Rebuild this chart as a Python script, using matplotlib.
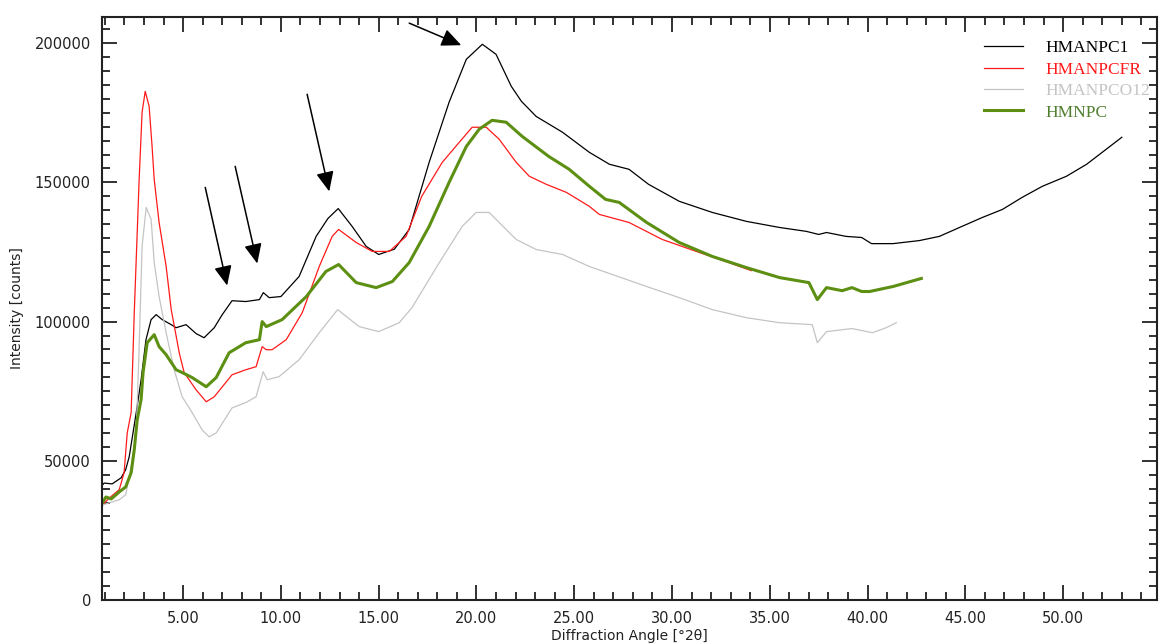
import matplotlib
matplotlib.use('Agg')
import matplotlib.pyplot as plt
from matplotlib.ticker import MultipleLocator, FormatStrFormatter

x_pc1 = [0.9, 0.96, 1.37, 1.83, 2.06, 2.24, 2.6, 2.85, 3.1, 3.36, 3.62, 3.93, 4.39, 4.64, 5.15, 5.66,
         6.07, 6.59, 7.0, 7.5, 8.2, 8.9, 9.1, 9.4, 10.0, 10.93, 11.8, 12.4, 12.93, 13.64, 14.36, 15.0,
         15.8, 16.56, 17.58, 18.6, 19.48, 20.3, 21.0, 21.78, 22.3, 23.05, 24.4, 25.77, 26.8, 27.8,
         28.8, 30.37, 32.06, 33.8, 35.5, 36.87, 37.5, 37.9, 38.9, 39.7, 40.2, 41.3, 42.65, 43.67,
         44.7, 45.87, 46.9, 47.9, 48.94, 50.17, 51.2, 52.0, 53.0]
y_pc1 = [41500, 42000, 41700, 43900, 46800, 51400, 67300, 79100, 93500, 100700, 102500, 100700,
         98900, 97800, 98900, 95700, 94200, 97800, 102500, 107500, 107200, 107900, 110400, 108600,
         109000, 116200, 130600, 137000, 140600, 134200, 127000, 124100, 126000, 133100, 157200,
         178800, 194200, 199600, 196000, 184500, 179100, 173700, 168000, 160800, 156500, 154700,
         149300, 143200, 139200, 136000, 133800, 132400, 131300, 132000, 130600, 130200, 128000,
         128000, 129100, 130600, 133800, 137400, 140300, 144600, 148600, 152200, 156500, 160800,
         166200]

x_fr = [0.9, 1.2, 1.73, 1.98, 2.14, 2.34, 2.5, 2.75, 2.9, 3.06, 3.26, 3.41, 3.52, 3.77, 4.13, 4.39,
        4.8, 5.05, 5.66, 6.18, 6.59, 7.5, 8.2, 8.73, 9.04, 9.25, 9.55, 10.27, 11.09, 11.96, 12.62,
        12.95, 13.85, 14.67, 15.54, 16.4, 17.2, 18.25, 19.12, 19.78, 20.5, 21.16, 22.03, 22.7,
        23.57, 24.6, 25.77, 26.28, 27.8, 29.5, 31.24, 32.9, 34.05]
y_fr = [34200, 36500, 39600, 45700, 60000, 67300, 103200, 151000, 175200, 182700, 177300, 163000,
        151000, 135600, 119800, 104300, 88800, 81700, 75500, 71200, 73000, 80900, 82700, 83800,
        91000, 89900, 89900, 93500, 103200, 119800, 130600, 133100, 128400, 125200, 125200, 130600,
        145000, 157200, 164400, 169800, 169800, 165500, 157200, 152200, 149300, 146400, 141400,
        138500, 135600, 129500, 125200, 121200, 118300]

x_o12 = [0.9, 1.73, 2.06, 2.34, 2.6, 2.75, 2.9, 3.11, 3.36, 3.52, 3.77, 4.13, 4.54, 4.95, 5.46, 5.97,
         6.33, 6.69, 7.5, 8.2, 8.73, 9.09, 9.3, 9.9, 10.93, 11.96, 12.9, 14.0, 15.0, 16.05, 16.7,
         18.1, 19.27, 19.98, 20.65, 22.03, 23.05, 24.4, 25.77, 26.95, 28.7, 30.37, 32.06, 33.8,
         35.5, 37.17, 37.43, 37.9, 39.2, 40.25, 40.95, 41.47]
y_o12 = [34200, 36000, 37800, 47800, 60000, 91000, 127000, 141000, 136700, 121200, 109000, 96000,
         82700, 73000, 67300, 61100, 58600, 60000, 69000, 70900, 73000, 82000, 79100, 80200, 86300,
         96000, 104300, 98200, 96400, 99600, 105000, 121200, 134200, 139200, 139200, 129500,
         125900, 124100, 119800, 116900, 112600, 108600, 104300, 101400, 99600, 98900, 92400,
         96400, 97500, 96000, 97800, 99600]

x_np = [0.9, 1.05, 1.32, 1.73, 2.06, 2.34, 2.5, 2.65, 2.85, 2.95, 3.16, 3.52, 3.77, 4.13, 4.64, 4.95,
        5.46, 6.18, 6.69, 7.35, 8.2, 8.9, 9.04, 9.25, 10.06, 11.3, 12.3, 12.95, 13.85, 14.87, 15.7,
        16.56, 17.58, 18.6, 19.48, 20.14, 20.8, 21.52, 22.34, 23.7, 24.74, 25.77, 26.6, 27.3,
        28.7, 30.37, 32.06, 33.8, 35.5, 37.0, 37.43, 37.9, 38.7, 39.2, 39.7, 40.1, 41.3, 42.75]
y_np = [35200, 37000, 36300, 38800, 40600, 45700, 54000, 64700, 72000, 81700, 92400, 95300, 91000,
        88100, 82700, 81700, 79900, 76600, 79900, 88800, 92400, 93500, 100000, 98200, 100700,
        109000, 118000, 120500, 114000, 112200, 114400, 121200, 134200, 150000, 162900, 169100,
        172300, 171600, 166500, 159300, 154700, 148600, 143900, 142800, 135600, 128400, 123400,
        119400, 115800, 114000, 107900, 112200, 111100, 112200, 110800, 110800, 112600, 115500]

# fleches (depart -> pointe) en coordonnees de donnees
arrow_start = [(6.13, 148200), (7.66, 155750), (11.34, 181650), (16.56, 207200)]
arrow_tip = [(7.25, 112950), (8.79, 120860), (12.47, 146760), (19.22, 199270)]

green = '#5c8f12'

fig = plt.figure(figsize=(11.59, 6.43), dpi=100)
ax = fig.add_axes([102/1159, 1 - 600/643, 1055/1159, 583/643])

ax.plot(x_pc1, y_pc1, color='black', lw=0.9, label='HMANPC1')
ax.plot(x_fr, y_fr, color='#ff1a1a', lw=0.9, label='HMANPCFR')
ax.plot(x_o12, y_o12, color='#c4c4c4', lw=0.9, label='HMANPCO12')
ax.plot(x_np, y_np, color=green, lw=2.2, label='HMNPC')

for s, t in zip(arrow_start, arrow_tip):
    ax.annotate('', xy=t, xytext=s,
                arrowprops=dict(arrowstyle='-|>,head_length=0.6,head_width=0.27',
                                mutation_scale=20, color='black', lw=1.1,
                                shrinkA=0, shrinkB=0))

ax.set_xlim(0.85, 54.8)
ax.set_ylim(0, 209400)
ax.xaxis.set_major_locator(MultipleLocator(5))
ax.xaxis.set_minor_locator(MultipleLocator(1))
ax.yaxis.set_major_locator(MultipleLocator(50000))
ax.yaxis.set_minor_locator(MultipleLocator(5000))
ax.xaxis.set_major_formatter(FormatStrFormatter('%.2f'))
ax.set_xticks([5, 10, 15, 20, 25, 30, 35, 40, 45, 50])

ax.tick_params(which='both', direction='in', top=True, right=True, width=1.3, color='#222222',
               labelsize=10.5, labelcolor='#222222')
ax.tick_params(which='major', length=11)
ax.tick_params(which='minor', length=6)
ax.tick_params(axis='x', pad=8)
ax.tick_params(axis='y', pad=8)
for sp in ax.spines.values():
    sp.set_linewidth(1.5)
    sp.set_color('#222222')

ax.set_xlabel('Diffraction Angle [°2θ]', fontsize=10, labelpad=2, color='#222222')
ax.set_ylabel('Intensity [counts]', fontsize=10, labelpad=8, color='#222222',
              family=['Liberation Sans Narrow', 'DejaVu Sans'])

leg = ax.legend(loc='upper left', bbox_to_anchor=(0.829, 0.972), frameon=False,
                borderaxespad=0, borderpad=0.4,
                prop={'family': 'Liberation Serif', 'size': 12.5},
                handlelength=2.3, handletextpad=1.25, labelspacing=0.3,
                labelcolor=['black', '#ff1a1a', '#c4c4c4', '#4f7f2f'])

fig.savefig('out.png', dpi=100)
